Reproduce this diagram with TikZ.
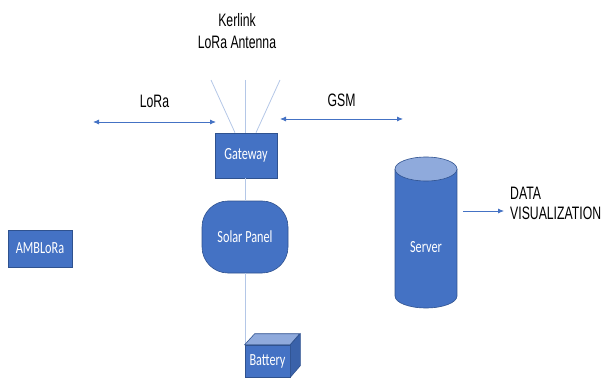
\documentclass[tikz,border=0pt]{standalone}
\usepackage{fontspec}
\usepackage{xcolor}
\usetikzlibrary{arrows.meta}
\newfontfamily\boxfont[FakeStretch=0.72]{Carlito}
\newfontfamily\labelfont[FakeStretch=0.68]{Liberation Sans}
\definecolor{officeblue}{HTML}{4472C4}
\definecolor{darkblue}{HTML}{2F528F}
\definecolor{topblue}{HTML}{8FAADC}
\definecolor{sideblue}{HTML}{3A62AA}
\definecolor{wireblue}{HTML}{B4C7E7}

\begin{document}
\begin{tikzpicture}[x=1pt, y=1pt,
    box/.style={draw=darkblue, fill=officeblue, text=white, line width=0.6pt, inner sep=0pt, font=\boxfont\fontsize{17}{20}\selectfont},
    lbl/.style={inner sep=0pt, align=center, text=black, font=\labelfont\fontsize{18}{21}\selectfont},
    link/.style={officeblue, line width=0.8pt, {Latex[length=6pt,width=5pt]}-{Latex[length=6pt,width=5pt]}},
    wire/.style={wireblue, line width=0.8pt}]
    \useasboundingbox (0,0) rectangle (607,378);

    % antenna
    \node[lbl, font=\labelfont\fontsize{18}{22}\selectfont] (antenna) at (237,347) {Kerlink\\LoRa Antenna};
    \coordinate (ant) at (245,298);
    \coordinate (antL) at (211,298);
    \coordinate (antR) at (280,298);

    % boxes
    \node[box, minimum width=62, minimum height=45] (gateway) at (246,222.5) {Gateway};
    \node[box, rounded corners=26pt, minimum width=86, minimum height=72] (solar) at (245,141) {Solar Panel};
    \node[box, minimum width=64, minimum height=37] (amb) at (40,129.5) {AMBLoRa};

    % wires between the boxes
    \draw[wire] (ant) -- (gateway.north -| ant);
    \draw[wire] (gateway.south -| ant) -- (solar.north -| ant);
    \draw[wire] (solar.south -| ant) -- (245,34);
    \draw[wire] (antL) -- ([xshift=-11pt]gateway.north);
    \draw[wire] (antR) -- ([xshift=10pt]gateway.north);

    % battery
    \node[box, minimum width=45, minimum height=32] (battery) at (267.5,17) {Battery};
    \filldraw[fill=topblue, draw=darkblue, line width=0.6pt] (battery.north west) -- ++(10,11) -- ++(45,0) -- (battery.north east) -- cycle;
    \filldraw[fill=sideblue, draw=darkblue, line width=0.6pt] (battery.north east) -- ++(10,11) -- ++(0,-32) -- (battery.south east) -- cycle;

    % links
    \coordinate (loraL) at (93,256);
    \coordinate (loraR) at (216,256);
    \coordinate (gsmL) at (280,259);
    \coordinate (gsmR) at (403,259);
    \draw[link] (loraL) -- (loraR) node[midway, above=14pt, lbl] (loralbl) {LoRa};
    \draw[link] (gsmL) -- (gsmR) node[midway, above=11.5pt, lbl] (gsmlbl) {GSM};

    % server
    \fill[officeblue] (395,82) rectangle (457,209);
    \fill[officeblue] (426,82) ellipse [x radius=31, y radius=12];
    \draw[darkblue, line width=0.6pt] (395,209) -- (395,82) arc[start angle=180, end angle=360, x radius=31, y radius=12] -- (457,209);
    \filldraw[fill=topblue, draw=darkblue, line width=0.6pt] (426,209) ellipse [x radius=31, y radius=12];
    \node[text=white, font=\boxfont\fontsize{17}{20}\selectfont] (server) at (426,131) {Server};

    \node[lbl, align=left, anchor=west, font=\labelfont\fontsize{18}{20}\selectfont] (datavis) at (510,175) {DATA\\VISUALIZATION};
    \coordinate (srvout) at (463,167);
    \draw[officeblue, line width=0.8pt, -{Latex[length=6pt,width=5pt]}, shorten >=6pt] (srvout) -- (datavis.west |- srvout);
\end{tikzpicture}
\end{document}
